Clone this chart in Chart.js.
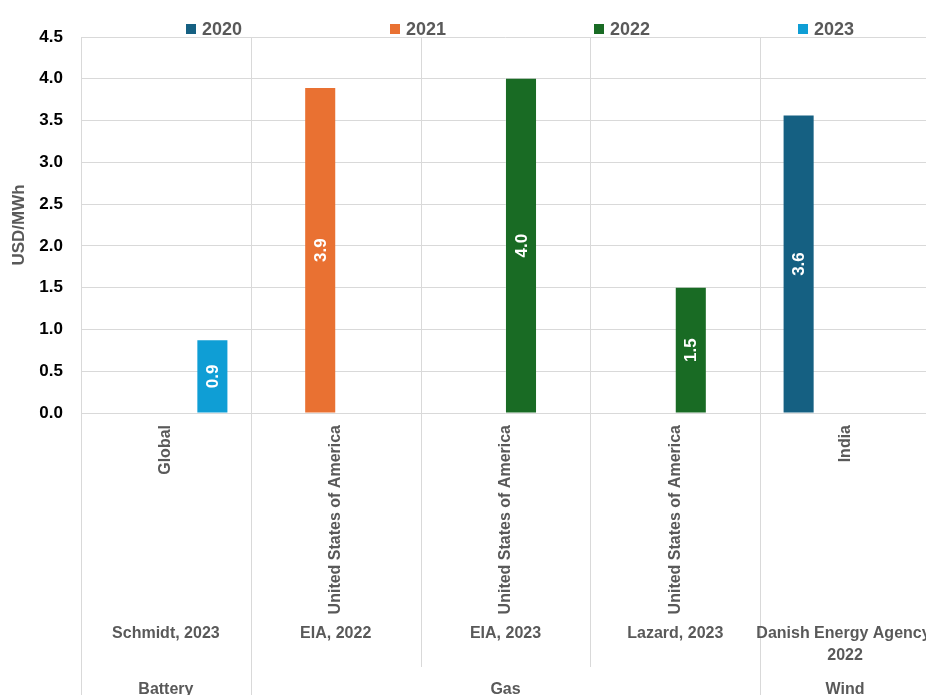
<!DOCTYPE html>
<html>
<head>
<meta charset="utf-8">
<script src="https://cdn.jsdelivr.net/npm/chart.js@4"></script>
<style>
  html, body { margin: 0; padding: 0; background: #fff; overflow: hidden; }
  #wrap { position: relative; width: 930px; height: 695px; }
</style>
</head>
<body>
<div id="wrap"><canvas id="c"></canvas></div>
<script>
// ---- data ----
const countries = ['Global', 'United States of America', 'United States of America', 'United States of America', 'India'];
const sources = [['Schmidt, 2023'], ['EIA, 2022'], ['EIA, 2023'], ['Lazard, 2023'], ['Danish Energy Agency,', '2022']];
const technologies = ['Battery', 'Gas', 'Gas', 'Gas', 'Wind'];
const seriesNames = ['2020', '2021', '2022', '2023'];
const values2020 = [null, null, null, null, 3.56];
const values2021 = [null, 3.89, null, null, null];
const values2022 = [null, null, 4.0, 1.5, null];
const values2023 = [0.87, null, null, null, null];
const yTicks = [0, 0.5, 1.0, 1.5, 2.0, 2.5, 3.0, 3.5, 4.0, 4.5];

const colors = ['#156082', '#E97132', '#196B24', '#0F9ED5'];
const TEXT_GREY = '#595959';
const GRID = '#d9d9d9';
const FONT = "'Liberation Sans', Arial, sans-serif";

const seriesValues = [values2020, values2021, values2022, values2023];

const extras = {
  id: 'extras',
  beforeDatasetsDraw(chart) {
    const ctx = chart.ctx;
    const x = chart.scales.x;
    const area = chart.chartArea;
    const n = countries.length;
    const half = (x.getPixelForValue(1) - x.getPixelForValue(0)) / 2;
    ctx.save();
    ctx.strokeStyle = GRID;
    ctx.lineWidth = 1;
    for (let i = 0; i <= n; i++) {
      const bx = i < n ? x.getPixelForValue(i) - half : x.getPixelForValue(n - 1) + half;
      const groupEdge = (i === 0 || i === n || technologies[i] !== technologies[i - 1]);
      const yEnd = groupEdge ? chart.height : area.bottom + 254;
      ctx.beginPath();
      ctx.moveTo(Math.round(bx) + 0.5, area.top);
      ctx.lineTo(Math.round(bx) + 0.5, yEnd);
      ctx.stroke();
    }
    ctx.restore();
  },
  afterDraw(chart) {
    const ctx = chart.ctx;
    const x = chart.scales.x;
    const area = chart.chartArea;
    const n = countries.length;
    ctx.save();
    // data labels
    ctx.fillStyle = '#ffffff';
    ctx.font = 'bold 17px ' + FONT;
    ctx.textAlign = 'center';
    ctx.textBaseline = 'middle';
    chart.data.datasets.forEach((ds, di) => {
      const meta = chart.getDatasetMeta(di);
      meta.data.forEach((bar, j) => {
        const v = ds.data[j];
        if (v === null || v === undefined) return;
        const cy = (bar.y + bar.base) / 2;
        ctx.save();
        ctx.translate(bar.x, cy);
        ctx.rotate(-Math.PI / 2);
        ctx.fillText(v.toFixed(1), 0, 1);
        ctx.restore();
      });
    });
    // country labels (rotated)
    ctx.fillStyle = TEXT_GREY;
    ctx.font = 'bold 16px ' + FONT;
    for (let i = 0; i < n; i++) {
      ctx.save();
      ctx.translate(x.getPixelForValue(i), area.bottom + 12);
      ctx.rotate(-Math.PI / 2);
      ctx.textAlign = 'right';
      ctx.textBaseline = 'middle';
      ctx.fillText(countries[i], 0, 0);
      ctx.restore();
    }
    // source labels
    ctx.textAlign = 'center';
    ctx.textBaseline = 'middle';
    for (let i = 0; i < n; i++) {
      const lines = sources[i];
      lines.forEach((ln, k) => {
        ctx.fillText(ln, x.getPixelForValue(i), area.bottom + 221 + k * 22);
      });
    }
    // technology group labels
    let start = 0;
    for (let i = 1; i <= n; i++) {
      if (i === n || technologies[i] !== technologies[start]) {
        const cx = (x.getPixelForValue(start) + x.getPixelForValue(i - 1)) / 2;
        ctx.fillText(technologies[start], cx, area.bottom + 277);
        start = i;
      }
    }
    // legend
    ctx.font = 'bold 18px ' + FONT;
    ctx.textAlign = 'left';
    ctx.textBaseline = 'middle';
    chart.data.datasets.forEach((ds, di) => {
      const lx = area.left + 105 + di * 204;
      const ly = 29;
      ctx.fillStyle = ds.backgroundColor;
      ctx.fillRect(lx, ly - 5, 10, 10);
      ctx.fillStyle = TEXT_GREY;
      ctx.fillText(ds.label, lx + 16, ly + 1);
    });
    ctx.restore();
  }
};

new Chart(document.getElementById('c'), {
  type: 'bar',
  data: {
    labels: countries,
    datasets: seriesNames.map((name, i) => ({
      label: name,
      data: seriesValues[i],
      backgroundColor: colors[i],
      borderWidth: 0,
      categoryPercentage: 0.73,
      barPercentage: 0.97
    }))
  },
  options: {
    responsive: true,
    maintainAspectRatio: false,
    animation: false,
    layout: { padding: { top: 37, bottom: 274, left: 0, right: 0 } },
    plugins: { legend: { display: false }, tooltip: { enabled: false } },
    scales: {
      x: {
        grid: { display: false },
        border: { display: false },
        ticks: { display: false }
      },
      y: {
        min: 0,
        max: 4.5,
        afterBuildTicks(scale) { scale.ticks = yTicks.map(v => ({ value: v })); },
        afterFit(scale) { scale.width = 81; },
        grid: { color: GRID, lineWidth: 1, drawTicks: false },
        border: { display: false },
        ticks: {
          padding: 18,
          color: '#000000',
          font: { family: FONT, size: 17, weight: 'bold' },
          callback: v => Number(v).toFixed(1)
        },
        title: {
          display: true,
          text: 'USD/MWh',
          color: TEXT_GREY,
          padding: { top: 9, bottom: 0 },
          font: { family: FONT, size: 17, weight: 'bold' }
        }
      }
    }
  },
  plugins: [extras]
});
</script>
</body>
</html>
